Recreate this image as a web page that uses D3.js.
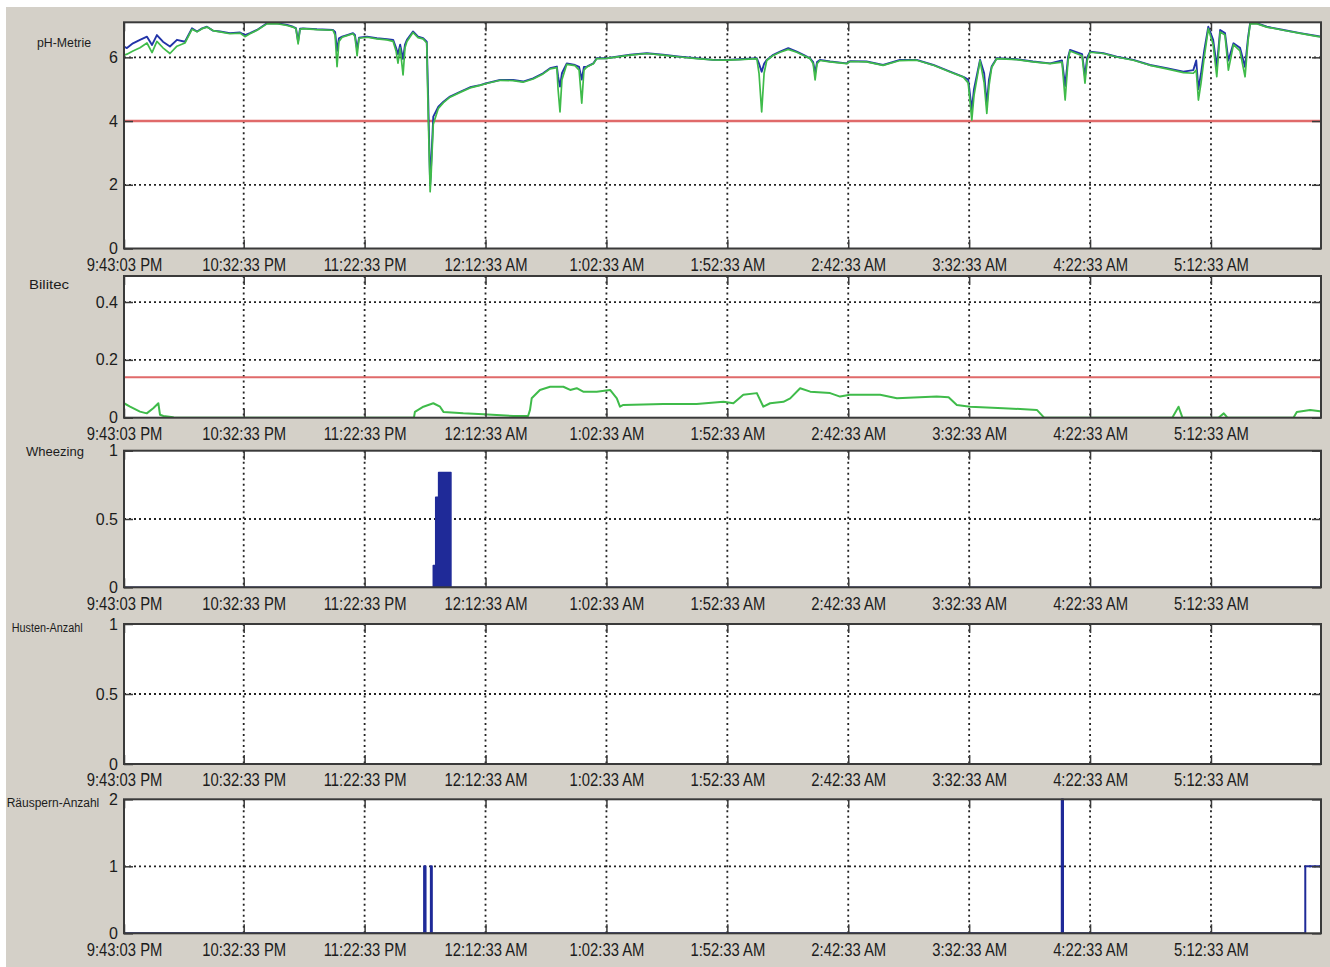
<!DOCTYPE html>
<html><head><meta charset="utf-8">
<script src="https://cdn.jsdelivr.net/npm/d3@7"></script>
<style>
html,body{margin:0;padding:0;background:#fff;}
svg{display:block;}
text{font-family:"Liberation Sans",Arial,Helvetica,sans-serif;}
</style></head><body>
<svg id="chart" width="1330" height="967"></svg>
<script>
// ---------- DATA ----------
const startLabel = "9:43:03 PM";
const endLabel = "5:58:03 AM";
const timeTickLabels = ["9:43:03 PM","10:32:33 PM","11:22:33 PM","12:12:33 AM","1:02:33 AM","1:52:33 AM","2:42:33 AM","3:32:33 AM","4:22:33 AM","5:12:33 AM"];
const panelNames = ["pH-Metrie","Bilitec","Wheezing","Husten-Anzahl","Räuspern-Anzahl"];
const yMax = [7.1, 0.49, 1, 1, 2];
const yTickValues = [[0,2,4,6],[0,0.2,0.4],[0,0.5,1],[0,0.5,1],[0,1,2]];
const yTickLabels = [["0","2","4","6"],["0","0.2","0.4"],["0","0.5","1"],["0","0.5","1"],["0","1","2"]];
const thresholds = [4, 0.14, null, null, null];

// [minutes since start, value]
const phBlue = [[0,6.34],[1.2,6.29],[3.7,6.44],[6.6,6.55],[9.5,6.65],[11.6,6.39],[13.6,6.70],[16.1,6.49],[19.0,6.34],[21.9,6.55],[25.2,6.49],[28.1,6.91],[30.2,6.81],[32.3,6.91],[34.3,6.96],[36.8,6.84],[39.7,6.81],[43.8,6.76],[48.0,6.78],[50.0,6.70],[52.1,6.76],[55.0,6.86],[59.1,7.07],[63.3,7.07],[67.4,7.02],[69.9,6.96],[71.1,6.92],[72.0,6.50],[72.8,6.90],[74.0,6.91],[79.8,6.88],[86.4,6.86],[87.3,6.80],[88.1,6.20],[88.9,6.60],[90.2,6.65],[92.2,6.70],[94.7,6.76],[95.5,6.70],[96.4,6.25],[97.2,6.62],[100.5,6.65],[104.6,6.60],[108.8,6.57],[111.3,6.55],[112.5,6.30],[113.3,6.10],[114.2,6.40],[115.4,5.95],[116.2,6.40],[117.0,6.55],[119.5,6.81],[121.6,6.65],[123.7,6.60],[125.2,6.49],[125.7,5.0],[126.6,2.0],[127.0,2.6],[127.9,4.14],[130.0,4.45],[132.1,4.61],[134.8,4.77],[139.0,4.92],[143.1,5.06],[147.2,5.13],[150.0,5.19],[155.5,5.29],[160.9,5.29],[165.0,5.24],[169.2,5.34],[173.3,5.50],[176.2,5.66],[179.0,5.71],[179.5,5.4],[180.3,5.08],[181.1,5.5],[183.1,5.81],[186.5,5.76],[188.2,5.70],[189.3,5.30],[190.2,5.70],[191.4,5.71],[194.1,5.81],[195.5,5.97],[199.6,5.97],[209.3,6.08],[216.2,6.13],[222.9,6.08],[229.9,6.02],[236.9,5.97],[243.7,5.92],[249.3,5.92],[254.8,5.94],[261.7,5.97],[262.6,5.8],[263.7,5.55],[264.7,5.8],[265.8,5.92],[268.5,6.08],[271.3,6.18],[274.7,6.29],[278.2,6.18],[281.0,6.08],[283.7,5.97],[285.0,5.85],[285.8,5.50],[286.6,5.85],[287.8,5.92],[292.0,5.87],[298.9,5.81],[300.2,5.88],[307.1,5.87],[313.9,5.76],[320.9,5.92],[327.8,5.92],[334.7,5.76],[341.6,5.55],[347.1,5.39],[349.1,5.30],[350.6,4.35],[351.5,5.0],[354.0,5.92],[355.7,5.5],[356.8,4.5],[357.7,5.3],[358.8,5.71],[360.9,5.97],[369.2,5.94],[375.9,5.87],[383.0,5.81],[387.9,5.90],[389.2,5.10],[390.4,6.0],[391.2,6.23],[396.2,6.10],[397.4,5.40],[398.3,6.0],[399.5,6.18],[405.0,6.13],[410.5,6.02],[417.4,5.92],[424.3,5.76],[431.2,5.66],[438.1,5.55],[442.2,5.60],[443.4,5.90],[444.3,5.0],[445.4,5.5],[446.7,6.2],[448.4,6.96],[450.4,6.55],[451.9,5.7],[453.3,6.86],[455.3,6.76],[456.7,5.9],[458.8,6.44],[461.5,6.3],[463.6,5.7],[464.8,6.6],[465.7,7.07],[468.4,7.07],[472.6,6.96],[479.5,6.86],[486.4,6.76],[493.3,6.67],[495.0,6.65]];

const phGreen = [[0,6.07],[1.2,6.1],[3.7,6.2],[6.6,6.3],[9.5,6.45],[11.6,6.15],[13.6,6.5],[16.1,6.3],[19.0,6.12],[21.9,6.35],[25.2,6.45],[28.1,6.88],[30.2,6.8],[32.3,6.9],[34.3,6.95],[36.8,6.84],[39.7,6.8],[43.8,6.74],[48.0,6.76],[50.0,6.65],[52.1,6.74],[55.0,6.85],[59.1,7.05],[63.3,7.06],[67.4,7.0],[69.9,6.95],[71.1,6.9],[72.0,6.42],[72.8,6.88],[74.0,6.9],[79.8,6.87],[86.4,6.85],[87.3,6.7],[88.1,5.71],[88.9,6.5],[90.2,6.63],[92.2,6.68],[94.7,6.74],[95.5,6.65],[96.4,6.05],[97.2,6.6],[100.5,6.63],[104.6,6.58],[108.8,6.55],[111.3,6.5],[112.5,6.2],[113.3,5.82],[114.2,6.3],[115.4,5.45],[116.2,6.3],[117.0,6.5],[119.5,6.78],[121.6,6.62],[123.7,6.58],[125.2,6.45],[125.7,4.5],[126.6,1.78],[127.0,2.3],[127.9,3.9],[130.0,4.4],[132.1,4.58],[134.8,4.75],[139.0,4.9],[143.1,5.04],[147.2,5.12],[150.0,5.18],[155.5,5.28],[160.9,5.27],[165.0,5.22],[169.2,5.32],[173.3,5.48],[176.2,5.64],[179.0,5.68],[179.5,5.0],[180.3,4.29],[181.1,5.3],[183.1,5.78],[186.5,5.74],[188.2,5.6],[189.3,4.56],[190.2,5.6],[191.4,5.7],[194.1,5.8],[195.5,5.96],[199.6,5.97],[209.3,6.07],[216.2,6.12],[222.9,6.07],[229.9,6.01],[236.9,5.96],[243.7,5.92],[249.3,5.91],[254.8,5.93],[261.7,5.96],[262.6,5.5],[263.7,4.29],[264.7,5.5],[265.8,5.9],[268.5,6.06],[271.3,6.16],[274.7,6.25],[278.2,6.16],[281.0,6.06],[283.7,5.96],[285.0,5.8],[285.8,5.29],[286.6,5.8],[287.8,5.9],[292.0,5.86],[298.9,5.8],[300.2,5.87],[307.1,5.86],[313.9,5.75],[320.9,5.9],[327.8,5.91],[334.7,5.75],[341.6,5.54],[347.1,5.38],[349.1,5.2],[350.6,4.03],[351.5,4.8],[354.0,5.9],[355.7,5.2],[356.8,4.24],[357.7,5.1],[358.8,5.68],[360.9,5.96],[369.2,5.93],[375.9,5.86],[383.0,5.8],[387.9,5.85],[389.2,4.66],[390.4,5.9],[391.2,6.2],[396.2,6.05],[397.4,5.19],[398.3,5.9],[399.5,6.16],[405.0,6.12],[410.5,6.01],[417.4,5.91],[424.3,5.75],[431.2,5.64],[438.1,5.52],[442.2,5.5],[443.4,5.6],[444.3,4.66],[445.4,5.2],[446.7,6.0],[448.4,6.9],[450.4,6.4],[451.9,5.39],[453.3,6.8],[455.3,6.7],[456.7,5.6],[458.8,6.4],[461.5,6.2],[463.6,5.39],[464.8,6.5],[465.7,7.05],[468.4,7.06],[472.6,6.95],[479.5,6.85],[486.4,6.75],[493.3,6.66],[495.0,6.64]];

const bilitec = [[0,0.05],[2.5,0.038],[6.6,0.021],[9.4,0.015],[12.1,0.033],[14.2,0.05],[14.9,0.01],[16.3,0.006],[20.3,0.002],[20.5,0],[119.9,0],[120.3,0.02],[123.8,0.038],[127.9,0.05],[130.7,0.038],[132.1,0.02],[140.3,0.015],[148.6,0.012],[161.0,0.006],[167.1,0.006],[167.9,0.027],[168.6,0.067],[172.0,0.096],[176.2,0.107],[181.7,0.107],[184.5,0.096],[187.2,0.102],[189.9,0.09],[195.5,0.09],[201.0,0.096],[203.8,0.067],[205.1,0.038],[206.5,0.044],[223.0,0.047],[236.8,0.047],[247.9,0.055],[252.0,0.05],[256.1,0.079],[261.7,0.085],[264.4,0.038],[267.2,0.05],[272.7,0.055],[275.5,0.067],[279.6,0.102],[283.8,0.09],[292.0,0.085],[296.1,0.073],[300.2,0.079],[312.7,0.079],[319.6,0.067],[336.1,0.073],[341.0,0.071],[344.4,0.044],[349.9,0.038],[363.6,0.033],[377.5,0.027],[380.2,0.003],[380.5,0],[433.5,0],[436.1,0.038],[437.7,0],[452.6,0],[454.8,0.015],[456.3,0],[483.6,0],[485.0,0.02],[490.5,0.027],[494.6,0.022],[495.0,0.022]];

const wheezing = [[0,0],[127.9,0.16],[128.9,0.66],[130.1,0.84],[135.2,0],[495,0]];
const husten = [[0,0],[495,0]];
const raeuspern = [[0,0],[124.1,1],[124.7,0],[126.9,1],[127.3,0],[387.8,2],[388.3,0],[488.5,1],[495,1]];

// ---------- LAYOUT ----------
const L = {left:124, right:1321};
const panelBox = [{top:22.3,bottom:248.5},{top:276,bottom:417.7},{top:450.7,bottom:587.3},{top:624,bottom:764},{top:799.3,bottom:933.3}];
const namePos = [{x:37,y:47,w:54},{x:29,y:289,w:40},{x:26,y:456,w:58},{x:11.7,y:632,w:71},{x:6.7,y:807,w:92.6}];
const C = {bg:"#d4d0c8", frame:"#3a3a3a", grid:"#222", red:"#e06a6a", blue:"#2234a8", green:"#3fbb4a", navy:"#1f2a98", text:"#1c1c1c"};

// ---------- SCALES ----------
const parseT = d3.timeParse("%I:%M:%S %p");
const t0 = parseT(startLabel);
const toTime = lbl => { const d = parseT(lbl); return d < t0 ? d3.timeDay.offset(d,1) : d; };
const t1 = toTime(endLabel);
const xTicks = timeTickLabels.map(toTime);
const mDate = m => new Date(t0.getTime() + m*60000);
const fmt = d3.timeFormat("%-I:%M:%S %p");
const x = d3.scaleTime().domain([t0,t1]).range([L.left,L.right]);

const svg = d3.select("#chart");
svg.append("rect").attr("width",1330).attr("height",967).attr("fill",C.bg);
svg.append("rect").attr("width",1330).attr("height",7).attr("fill","#fff");
svg.append("rect").attr("width",6).attr("height",967).attr("fill","#fff");

const series = [
  [{d:phBlue,c:C.blue,w:1.9},{d:phGreen,c:C.green,w:1.7}],
  [{d:bilitec,c:C.green,w:2}],
  [{d:wheezing,c:C.navy,w:1.5,area:true,step:true}],
  [{d:husten,c:C.navy,w:2,step:true}],
  [{d:raeuspern,c:C.navy,w:2,step:true}]
];

panelBox.forEach((p,i)=>{
  const y = d3.scaleLinear().domain([0,yMax[i]]).range([p.bottom,p.top]);
  const g = svg.append("g");
  g.append("rect").attr("x",L.left).attr("y",p.top).attr("width",L.right-L.left).attr("height",p.bottom-p.top).attr("fill","#fff");
  g.append("clipPath").attr("id","clip"+i).append("rect").attr("x",L.left).attr("y",p.top-1).attr("width",L.right-L.left).attr("height",p.bottom-p.top+1);

  // grid
  g.selectAll("line.vg").data(xTicks.slice(1)).join("line").attr("class","vg")
    .attr("x1",d=>x(d)).attr("x2",d=>x(d)).attr("y1",p.top).attr("y2",p.bottom)
    .attr("stroke",C.grid).attr("stroke-width",1.8).attr("stroke-dasharray","2,3.5");
  g.selectAll("line.hg").data(yTickValues[i].filter(v=>v>0&&v<yMax[i])).join("line").attr("class","hg")
    .attr("x1",L.left).attr("x2",L.right).attr("y1",d=>y(d)).attr("y2",d=>y(d))
    .attr("stroke",C.grid).attr("stroke-width",1.8).attr("stroke-dasharray","2,3");

  if(thresholds[i]!==null){
    g.append("line").attr("x1",L.left).attr("x2",L.right).attr("y1",y(thresholds[i])).attr("y2",y(thresholds[i]))
      .attr("stroke",C.red).attr("stroke-width",i===0?2.6:2);
  }

  const dg = g.append("g").attr("clip-path",`url(#clip${i})`);
  series[i].forEach(s=>{
    if(s.area){
      const ar = d3.area().x(d=>x(mDate(d[0]))).y0(y(0)).y1(d=>y(d[1])).curve(d3.curveStepAfter);
      dg.append("path").datum(s.d).attr("d",ar).attr("fill",s.c);
    }
    const ln = d3.line().x(d=>x(mDate(d[0]))).y(d=>y(d[1])).curve(s.step?d3.curveStepAfter:d3.curveLinear);
    dg.append("path").datum(s.d).attr("d",ln).attr("fill","none").attr("stroke",s.c).attr("stroke-width",s.w).attr("stroke-linejoin","round");
  });

  g.append("rect").attr("x",L.left).attr("y",p.top).attr("width",L.right-L.left).attr("height",p.bottom-p.top)
    .attr("fill","none").attr("stroke",C.frame).attr("stroke-width",2);

  // axes
  const ax = (sel)=>{ sel.select(".domain").remove(); sel.selectAll(".tick line").attr("stroke",C.frame).attr("stroke-width",1.5); };
  g.append("g").attr("transform",`translate(0,${p.bottom})`)
    .call(d3.axisBottom(x).tickValues(xTicks).tickSize(-9).tickFormat(fmt)).call(ax)
    .selectAll("text").attr("y",22.5).attr("dy",0).attr("fill",C.text)
    .style("font-size","18.5px").attr("transform","scale(0.8,1)");
  g.append("g").attr("transform",`translate(0,${p.top})`)
    .call(d3.axisTop(x).tickValues(xTicks).tickSize(-9).tickFormat("")).call(ax);
  g.append("g").attr("transform",`translate(${L.left},0)`)
    .call(d3.axisLeft(y).tickValues(yTickValues[i]).tickSize(-9).tickPadding(6).tickFormat((d,j)=>yTickLabels[i][j])).call(ax)
    .selectAll("text").attr("fill",C.text).style("font-size","16px");
  g.append("g").attr("transform",`translate(${L.right},0)`)
    .call(d3.axisRight(y).tickValues(yTickValues[i]).tickSize(-9).tickFormat("")).call(ax);

  svg.append("text").attr("x",namePos[i].x).attr("y",namePos[i].y).text(panelNames[i])
    .attr("fill",C.text).style("font-size","12px")
    .attr("textLength",namePos[i].w).attr("lengthAdjust","spacingAndGlyphs");
});
</script>
</body></html>
